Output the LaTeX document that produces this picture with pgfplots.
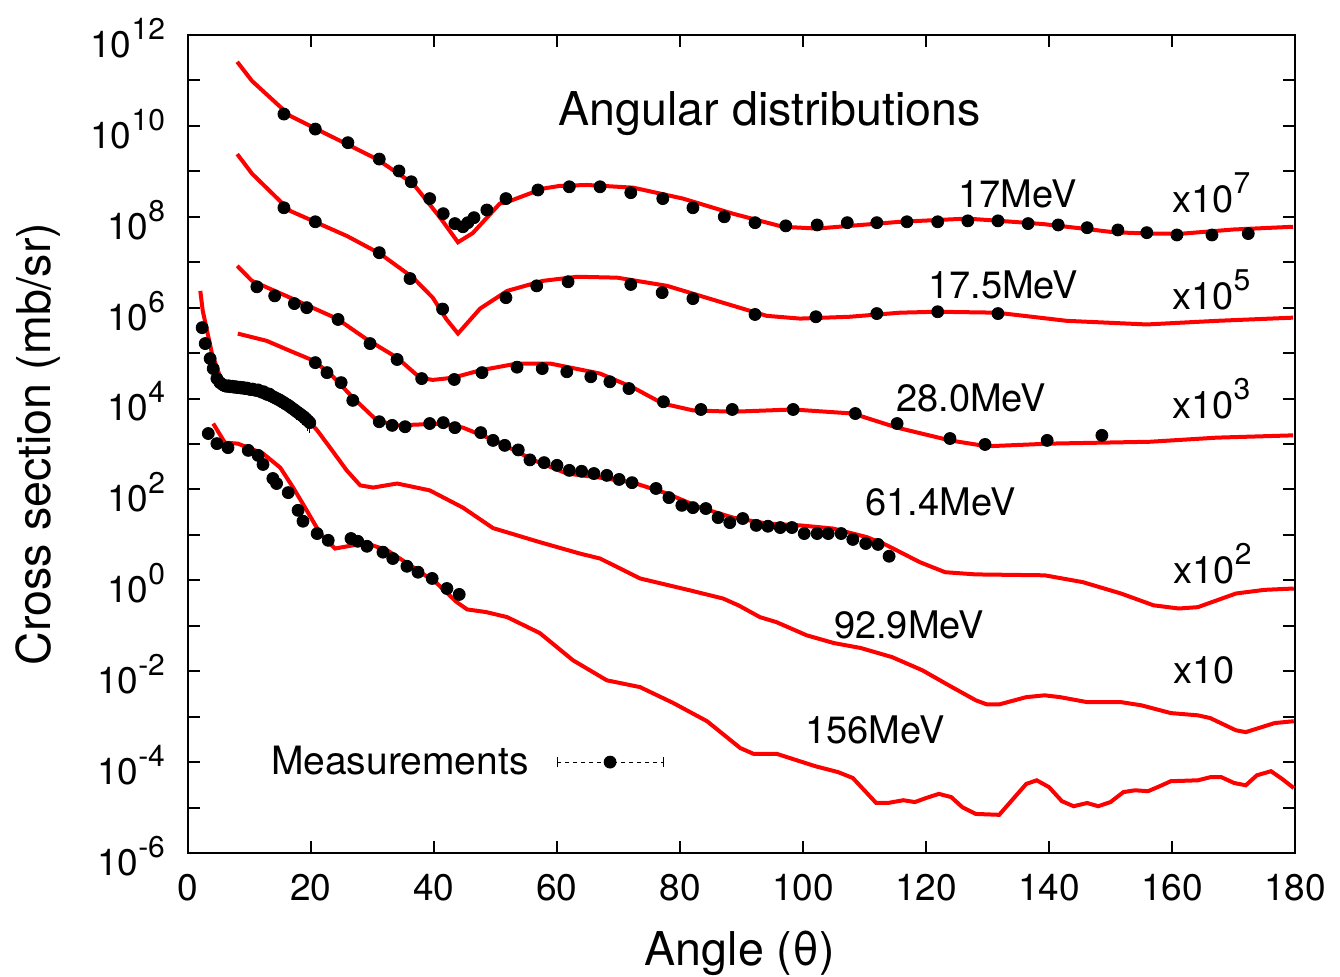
\documentclass[border=0pt]{standalone}
\usepackage{pgfplots}
\pgfplotsset{compat=1.18}
\usepackage{pgfplotstable}
\usepackage{fontspec}
\setmainfont{TeX Gyre Heros}
\newcommand{\tp}[1]{10\raisebox{9pt}{\fontsize{15}{15}\selectfont #1}}
\newcommand{\xs}[1]{x10\raisebox{0.5em}{\fontsize{15}{15}\selectfont #1}}

% ---------- theory curves ----------
\pgfplotstableread{
x y
8.0 2.57e11
10.4 9.77e10
16.6 1.66e10
25.8 3.98e9
30.7 1.86e9
36.6 5.37e8
41.0 9.55e7
43.9 2.75e7
46.3 4.37e7
50.7 1.95e8
52.4 2.24e8
57.7 4.17e8
60.5 4.79e8
64.9 5.01e8
72.4 4.37e8
80.5 2.51e8
88.6 1.17e8
96.7 6.03e7
102.3 5.50e7
107.6 6.31e7
115.8 7.76e7
126.7 9.12e7
132.0 8.13e7
139.0 6.92e7
145.5 5.50e7
150.5 4.57e7
156.4 4.27e7
161.8 4.27e7
170.0 5.25e7
179.7 6.03e7
}\thA
\pgfplotstableread{
x y
8.0 2.40e9
10.4 8.91e8
16.6 1.35e8
25.8 3.80e7
31.2 1.55e7
36.6 4.57e6
39.8 1.66e6
42.0 5.62e5
43.9 2.69e5
47.5 9.55e5
51.9 2.34e6
57.7 3.89e6
63.3 4.79e6
69.8 4.57e6
77.9 3.02e6
86.0 1.41e6
94.1 6.61e5
99.5 5.75e5
107.6 6.31e5
115.8 7.76e5
121.8 8.13e5
131.5 7.76e5
142.9 5.13e5
155.9 4.27e5
167.3 5.13e5
179.7 6.03e5
}\thB
\pgfplotstableread{
x y
8.0 8.32e6
10.4 3.89e6
16.6 1.66e6
24.2 5.75e5
29.1 2.00e5
34.0 7.94e4
37.7 2.88e4
39.8 2.57e4
43.1 2.88e4
47.5 4.17e4
53.5 5.89e4
58.9 5.89e4
67.0 3.55e4
72.4 1.74e4
77.2 7.76e3
82.1 5.50e3
88.6 5.13e3
98.4 5.75e3
108.1 4.68e3
115.3 2.29e3
123.9 1.20e3
129.9 8.91e2
140.2 1.02e3
156.4 1.12e3
167.3 1.38e3
179.7 1.55e3
}\thC
\pgfplotstableread{
x y
8.1 2.69e5
12.8 1.86e5
16.6 1.12e5
20.3 6.92e4
23.1 3.55e4
26.8 1.05e4
30.7 3.31e3
34.0 2.57e3
37.7 2.69e3
41.5 2.82e3
44.7 2.29e3
50.2 1.15e3
56.1 4.47e2
61.6 2.24e2
67.0 1.82e2
72.4 1.41e2
77.9 8.13e1
83.3 3.98e1
88.6 2.40e1
94.1 1.78e1
99.5 1.62e1
104.9 1.38e1
110.4 8.91e0
113.5 6.03e0
119.0 2.51e0
123.1 1.51e0
128.1 1.35e0
139.3 1.29e0
145.5 9.12e-1
151.7 5.13e-1
157.0 2.82e-1
161.1 2.40e-1
164.2 2.57e-1
170.4 5.13e-1
175.0 6.17e-1
179.8 6.61e-1
}\thD
\pgfplotstableread{
x y
2.0 2.34e6
2.4 8.51e5
3.9 9.77e4
5.7 1.95e4
8.5 1.74e4
11.7 1.51e4
14.5 1.05e4
17.1 6.31e3
19.3 3.63e3
21.0 2.00e3
23.1 8.32e2
25.8 2.63e2
28.0 1.23e2
30.1 1.10e2
34.0 1.35e2
39.3 9.55e1
44.7 3.98e1
49.6 1.41e1
57.2 6.92e0
63.7 3.89e0
67.0 3.02e0
73.5 1.10e0
81.6 6.03e-1
87.0 3.98e-1
89.5 2.82e-1
93.0 1.55e-1
95.7 1.20e-1
100.6 6.17e-2
105.0 4.17e-2
109.4 3.24e-2
114.5 2.04e-2
119.4 1.05e-2
123.7 4.90e-3
128.1 2.29e-3
129.9 1.86e-3
131.9 1.86e-3
136.3 2.69e-3
139.3 2.95e-3
141.8 2.69e-3
146.2 2.09e-3
151.7 2.09e-3
155.0 1.78e-3
159.8 1.20e-3
164.2 1.07e-3
166.2 9.33e-4
170.4 5.01e-4
172.0 4.57e-4
176.7 7.24e-4
179.8 7.94e-4
}\thE
\pgfplotstableread{
x y
4.1 2.82e3
6.0 1.07e3
8.1 1.02e3
12.2 6.17e2
15.0 3.02e2
17.1 1.10e2
19.3 3.47e1
21.5 1.07e1
23.9 5.01e0
26.8 5.89e0
29.1 6.46e0
32.4 4.57e0
36.6 1.95e0
40.5 8.51e-1
43.7 3.31e-1
45.4 2.29e-1
48.5 2.00e-1
51.9 1.55e-1
57.2 6.92e-2
62.6 1.74e-2
68.1 6.31e-3
73.5 4.47e-3
78.9 2.00e-3
84.4 7.94e-4
89.8 2.04e-4
92.0 1.51e-4
95.8 1.51e-4
102.0 8.13e-5
105.7 6.03e-5
108.1 4.47e-5
111.9 1.26e-5
113.8 1.26e-5
116.3 1.45e-5
118.2 1.32e-5
120.0 1.62e-5
122.1 2.00e-5
124.1 1.70e-5
125.9 1.02e-5
128.1 7.24e-6
131.9 6.92e-6
136.3 3.31e-5
138.0 3.98e-5
140.0 2.82e-5
142.1 1.38e-5
144.0 1.07e-5
146.2 1.26e-5
148.0 1.07e-5
150.0 1.32e-5
152.1 2.19e-5
154.0 2.40e-5
156.1 2.29e-5
158.0 2.95e-5
159.8 3.80e-5
164.2 3.98e-5
166.3 4.68e-5
168.0 4.68e-5
170.1 3.47e-5
172.0 3.09e-5
173.8 5.13e-5
176.1 6.31e-5
177.9 4.27e-5
179.8 2.69e-5
}\thF

% ---------- measurements ----------
\pgfplotstableread{
x y
15.6 1.82e10
20.7 8.51e9
26.0 4.27e9
31.1 1.86e9
34.3 1.02e9
36.3 5.89e8
39.3 2.51e8
41.5 1.17e8
43.4 7.08e7
44.7 6.03e7
45.5 7.41e7
46.5 9.55e7
48.6 1.41e8
51.7 2.51e8
56.9 3.89e8
62.0 4.57e8
67.0 4.57e8
72.0 3.39e8
77.2 2.51e8
82.1 1.58e8
87.2 1.00e8
92.2 7.41e7
97.2 6.31e7
102.3 6.61e7
107.2 7.41e7
112.0 7.41e7
116.9 7.76e7
121.9 7.76e7
126.8 8.13e7
131.7 8.13e7
136.6 7.08e7
141.5 6.61e7
146.2 5.75e7
151.2 5.13e7
155.9 4.47e7
160.8 3.98e7
166.5 3.98e7
172.4 4.27e7
}\exA
\pgfplotstableread{
x y
15.6 1.58e8
20.7 7.76e7
31.1 1.62e7
36.1 4.37e6
41.4 9.33e5
51.7 1.66e6
56.7 3.02e6
61.8 3.72e6
72.0 3.24e6
77.1 2.14e6
82.1 1.58e6
92.2 7.08e5
102.1 6.31e5
112.0 7.41e5
121.9 8.13e5
131.7 7.41e5
}\exB
\pgfplotstableread{
x y
11.2 2.88e6
14.1 1.82e6
17.3 1.23e6
19.3 1.00e6
24.4 5.50e5
29.6 1.62e5
34.0 7.24e4
38.0 2.75e4
43.3 2.63e4
47.8 3.72e4
53.5 4.90e4
57.6 4.57e4
61.6 3.89e4
65.5 3.02e4
68.6 2.34e4
71.7 1.66e4
77.3 8.51e3
83.4 5.75e3
88.5 5.75e3
98.4 5.75e3
108.5 4.68e3
115.3 2.82e3
123.9 1.32e3
129.6 9.77e2
139.7 1.20e3
148.6 1.55e3
}\exC
\pgfplotstableread{
x y
20.7 6.17e4
22.6 3.72e4
24.9 2.24e4
26.8 9.12e3
31.1 3.09e3
33.2 2.57e3
35.3 2.40e3
39.3 2.82e3
41.5 2.95e3
43.4 2.29e3
47.6 1.78e3
49.6 1.20e3
51.5 9.33e2
53.7 7.41e2
55.6 4.47e2
57.9 3.89e2
60.0 3.39e2
62.0 2.63e2
64.0 2.51e2
66.0 2.24e2
68.1 2.04e2
70.1 1.66e2
72.2 1.41e2
76.1 1.05e2
78.2 6.61e1
80.3 4.47e1
82.1 3.98e1
84.2 3.80e1
86.2 2.40e1
88.1 1.86e1
90.2 2.29e1
92.4 1.62e1
94.3 1.55e1
96.3 1.45e1
98.2 1.45e1
100.2 1.07e1
102.3 1.07e1
104.1 1.07e1
106.2 1.07e1
108.1 7.94e0
110.2 6.46e0
112.2 6.17e0
114.0 3.39e0
}\exD
\pgfplotstableread{
x y e
2.3 3.63e5 0.05
2.8 1.62e5 0.05
3.6 7.59e4 0.05
4.1 4.57e4 0.05
4.7 2.75e4 0.05
5.2 2.24e4 0.05
5.7 2.00e4 0.06
6.0 1.91e4 0.06
6.3 1.86e4 0.06
6.6 1.91e4 0.06
6.9 1.82e4 0.06
7.2 1.86e4 0.07
7.5 1.78e4 0.07
7.8 1.82e4 0.07
8.1 1.74e4 0.07
8.4 1.78e4 0.08
8.7 1.70e4 0.08
9.0 1.74e4 0.08
9.3 1.66e4 0.08
9.6 1.70e4 0.09
9.9 1.62e4 0.09
10.2 1.58e4 0.10
10.5 1.62e4 0.10
10.8 1.55e4 0.10
11.1 1.51e4 0.11
11.4 1.55e4 0.11
11.7 1.45e4 0.12
12.0 1.38e4 0.12
12.3 1.41e4 0.13
12.6 1.29e4 0.13
12.9 1.23e4 0.14
13.2 1.26e4 0.15
13.5 1.15e4 0.16
13.8 1.10e4 0.17
14.1 1.05e4 0.18
14.4 1.00e4 0.19
14.7 9.55e3 0.20
15.0 9.12e3 0.21
15.3 8.51e3 0.22
15.6 8.13e3 0.24
15.9 7.59e3 0.25
16.2 7.24e3 0.26
16.5 6.76e3 0.28
16.8 6.31e3 0.30
17.1 5.89e3 0.31
17.4 5.50e3 0.32
17.7 5.13e3 0.33
18.0 4.79e3 0.34
18.3 4.47e3 0.35
18.6 4.17e3 0.36
18.9 3.89e3 0.37
19.2 3.55e3 0.38
19.5 3.24e3 0.39
19.8 2.95e3 0.40
}\exE
\pgfplotstableread{
x y
3.3 1.70e3
4.7 1.02e3
6.5 8.32e2
9.8 7.24e2
11.4 5.62e2
12.2 3.55e2
13.8 1.74e2
14.4 1.35e2
16.3 8.51e1
17.9 3.47e1
18.7 2.00e1
21.0 1.07e1
22.8 7.59e0
26.5 8.32e0
27.6 7.24e0
29.1 5.62e0
31.7 4.17e0
33.3 3.02e0
35.6 2.04e0
37.4 1.51e0
39.7 1.10e0
42.1 6.61e-1
44.1 4.90e-1
}\exF

\begin{document}
\begin{tikzpicture}
\begin{axis}[
  name=ax,
  scale only axis, width=553.5pt, height=409pt,
  xmin=0, xmax=180, ymode=log, ymin=1e-6, ymax=1e12,
  xtick={0,20,...,180},
  ytick={1e-6,1e-5,1e-4,1e-3,1e-2,1e-1,1,1e1,1e2,1e3,1e4,1e5,1e6,1e7,1e8,1e9,1e10,1e11,1e12},
  yticklabels={\tp{-6},,\tp{-4},,\tp{-2},,\tp{0},,\tp{2},,\tp{4},,\tp{6},,\tp{8},,\tp{10},,\tp{12}},
  xminorticks=false, yminorticks=false,
  tick align=inside, major tick length=6pt,
  axis line style={line width=1pt},
  every tick/.style={black, line width=1pt},
  tick label style={font=\fontsize{18.5}{21}\selectfont},
  xticklabel style={/pgf/number format/assume math mode=true, yshift=-7pt},
  yticklabel style={xshift=-8pt, yshift=-1.5pt},
  xlabel={Angle (θ)}, ylabel={Cross section (mb/sr)},
  label style={font=\fontsize{23.3}{26}\selectfont},
  xlabel style={at={(axis description cs:0.4986,-0.1225)}, anchor=center},
  ylabel style={at={(axis description cs:-0.1355,0.5)}, anchor=center},
  legend plot pos=right,
  legend style={at={(axis cs:77.4,1e-4)}, anchor=east, draw=none, fill=none,
    font=\fontsize{19.5}{21}\selectfont, inner sep=0pt,
    /tikz/every odd column/.append style={column sep=12pt}},
]
% measurements
\addplot[only marks, mark=*, mark size=3pt, black,
  legend image code/.code={
    \draw[black, line width=0.5pt, dash pattern=on 2pt off 2pt] (0pt,0pt) -- (53pt,0pt);
    \draw[black, line width=0.5pt] (0pt,-2.5pt) -- (0pt,2.5pt) (53pt,-2.5pt) -- (53pt,2.5pt);
    \fill[black] (26.5pt,0pt) circle (3pt);
  }] table[x=x,y=y] {\exA};
\addlegendentry{Measurements}
\addplot[only marks, mark=*, mark size=3pt, black, forget plot] table[x=x,y=y] {\exB};
\addplot[only marks, mark=*, mark size=3pt, black, forget plot] table[x=x,y=y] {\exC};
\addplot[only marks, mark=*, mark size=3pt, black, forget plot] table[x=x,y=y] {\exD};
\addplot[only marks, mark=*, mark size=3pt, black, forget plot,
  error bars/.cd, y dir=both, y explicit relative, error mark=none,
  error bar style={line width=0.5pt, black}] table[x=x,y=y,y error=e] {\exE};
\addplot[only marks, mark=*, mark size=3pt, black, forget plot] table[x=x,y=y] {\exF};
% theory
\addplot[red, line width=2pt, forget plot] table[x=x,y=y] {\thA};
\addplot[red, line width=2pt, forget plot] table[x=x,y=y] {\thB};
\addplot[red, line width=2pt, forget plot] table[x=x,y=y] {\thC};
\addplot[red, line width=2pt, forget plot] table[x=x,y=y] {\thD};
\addplot[red, line width=2pt, forget plot] table[x=x,y=y] {\thE};
\addplot[red, line width=2pt, forget plot] table[x=x,y=y] {\thF};
% labels
\node[anchor=base west, font=\fontsize{23.3}{26}\selectfont, inner sep=0pt] at (axis cs:60.2,1e10) {Angular distributions};
\begin{scope}[every node/.style={anchor=base west, inner sep=0pt, font=\fontsize{19}{22}\selectfont}]
\node at (axis cs:125.2,1.58e8) {17MeV};
\node at (axis cs:160.0,1.23e8) {\xs{7}};
\node at (axis cs:120.3,1.58e6) {17.5MeV};
\node at (axis cs:160.0,9.12e5) {\xs{5}};
\node at (axis cs:115.1,5.13e3) {28.0MeV};
\node at (axis cs:160.0,3.63e3) {\xs{3}};
\node at (axis cs:110.1,26.9) {61.4MeV};
\node at (axis cs:160.2,0.851) {\xs{2}};
\node at (axis cs:105.0,0.0537) {92.9MeV};
\node at (axis cs:160.2,5.5e-3) {x10};
\node at (axis cs:100.3,2.63e-4) {156MeV};
\end{scope}
\end{axis}
\pgfresetboundingbox
\path ([xshift=-94pt,yshift=-61.5pt]ax.south west) rectangle ([xshift=22.5pt,yshift=17.5pt]ax.north east);
\end{tikzpicture}
\end{document}
